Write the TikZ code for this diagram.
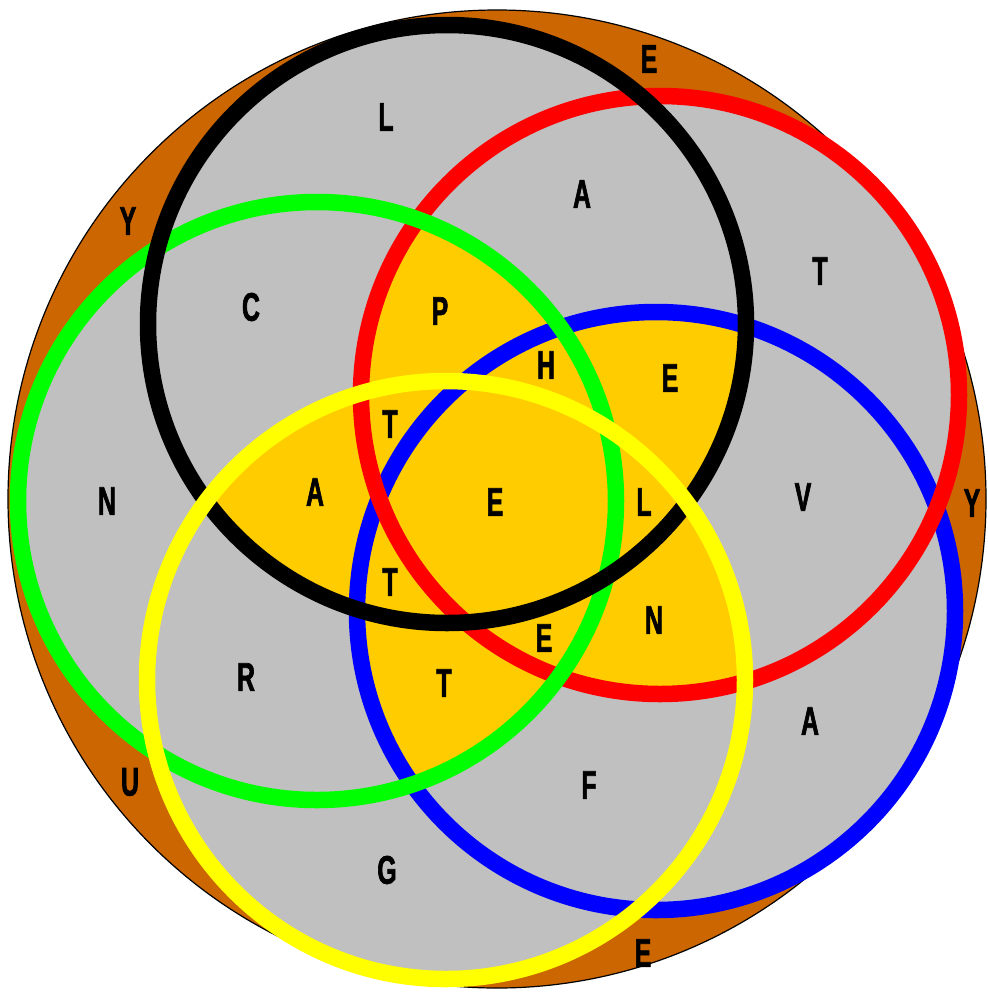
\documentclass[tikz,border=0pt]{standalone}
\usepackage{fontspec}
\newfontfamily\lettfont[FakeStretch=0.62,BoldFeatures={FakeBold=1.6}]{Liberation Sans}
\definecolor{brownring}{HTML}{CC6600}
\definecolor{greyfill}{HTML}{C0C0C0}
\definecolor{goldfill}{HTML}{FFCC00}
\definecolor{ringred}{HTML}{FF0000}
\definecolor{ringgreen}{HTML}{00FF00}
\definecolor{ringblue}{HTML}{0000FF}
\definecolor{ringyellow}{HTML}{FFFF00}
\tikzset{
  ring/.style={line width=16.5pt},
  lett/.style={font=\lettfont\bfseries\fontsize{40}{40}\selectfont, inner sep=0pt, text=black},
}
\begin{document}
\begin{tikzpicture}[x=1pt,y=-1pt]
\useasboundingbox (0,0) rectangle (988,994);
% centres of the five circles
\coordinate (K) at (447,324);
\coordinate (R) at (660,395);
\coordinate (G) at (317,501);
\coordinate (B) at (656,611);
\coordinate (Y) at (446,680);
\def\rr{299}
% outer disc
\draw[fill=brownring, line width=1.2pt] (497,499) circle[radius=489];
% union in grey
\foreach \c in {K,R,G,B,Y}{\fill[greyfill] (\c) circle[radius=\rr];}
% regions in three or more circles
\foreach \a/\b/\c in {K/R/G,K/R/B,K/R/Y,K/G/B,K/G/Y,K/B/Y,R/G/B,R/G/Y,R/B/Y,G/B/Y}{
  \begin{scope}
    \clip (\a) circle[radius=\rr];
    \clip (\b) circle[radius=\rr];
    \fill[goldfill] (\c) circle[radius=\rr];
  \end{scope}
}
% rings
\draw[ring, ringblue] (B) circle[radius=\rr];
\draw[ring, ringred] (R) circle[radius=\rr];
\draw[ring, ringgreen] (G) circle[radius=\rr];
\draw[ring, black] (K) circle[radius=\rr];
\draw[ring, ringyellow] (Y) circle[radius=\rr];
% letters
\node[lett] (l1) at (649,59) {E};
\node[lett] (l2) at (386,117) {L};
\node[lett] (l3) at (582,194) {A};
\node[lett] (l4) at (128,221) {Y};
\node[lett] (l5) at (820,271) {T};
\node[lett] (l6) at (251,307) {C};
\node[lett] (l7) at (440,311) {P};
\node[lett] (l8) at (546,365) {H};
\node[lett] (l9) at (670,378) {E};
\node[lett] (l10) at (390,424) {T};
\node[lett] (l11) at (107,501) {N};
\node[lett] (l12) at (315,492) {A};
\node[lett] (l13) at (495,502) {E};
\node[lett] (l14) at (644,502) {L};
\node[lett] (l15) at (803,497) {V};
\node[lett] (l16) at (972,503) {Y};
\node[lett] (l17) at (390,582) {T};
\node[lett] (l18) at (544,638) {E};
\node[lett] (l19) at (654,620) {N};
\node[lett] (l20) at (246,677) {R};
\node[lett] (l21) at (444,683) {T};
\node[lett] (l22) at (810,721) {A};
\node[lett] (l23) at (130,782) {U};
\node[lett] (l24) at (589,785) {F};
\node[lett] (l25) at (387,870) {G};
\node[lett] (l26) at (643,953) {E};
\end{tikzpicture}
\end{document}
